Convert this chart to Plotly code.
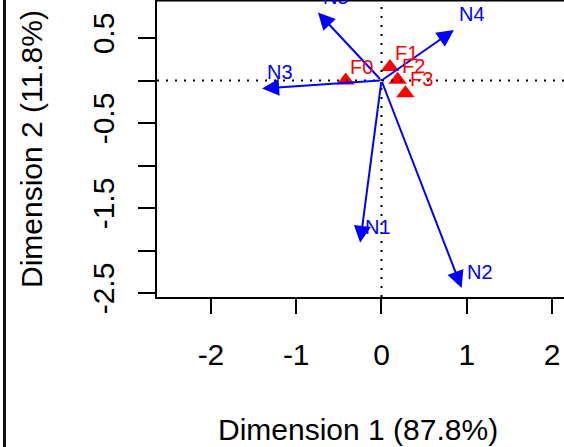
import plotly.graph_objects as go

# Row points (red triangles)
row_labels = ["F0", "F1", "F2", "F3"]
row_x = [-0.42, 0.10, 0.19, 0.28]
row_y = [0.00, 0.16, 0.01, -0.15]

# Column points (blue arrows)
col_labels = ["N1", "N2", "N3", "N4", "N5"]
col_x = [-0.25, 0.94, -1.40, 0.85, -0.745]
col_y = [-1.91, -2.44, -0.094, 0.594, 0.80]

x_ticks = [-2, -1, 0, 1, 2]
x_ticktext = ["-2", "-1", "0", "1", "2"]
y_ticks = [-2.5, -2.0, -1.5, -1.0, -0.5, 0.0, 0.5]
y_ticktext = ["-2.5", "", "-1.5", "", "-0.5", "", "0.5"]

x_title = "Dimension 1 (87.8%)"
y_title = "Dimension 2 (11.8%)"

FONT = "Liberation Sans, Arial, sans-serif"
W, H = 564, 447
L, B = 157, 150
PW, PH = W - L, H - B

fig = go.Figure()

fig.add_trace(go.Scatter(
    x=row_x, y=row_y, mode="markers",
    marker=dict(symbol="triangle-up", size=16, color="red"),
    hoverinfo="skip", showlegend=False, cliponaxis=False,
))

annotations = []
for lab, xv, yv in zip(col_labels, col_x, col_y):
    annotations.append(dict(
        x=xv, y=yv, ax=0, ay=0, xref="x", yref="y", axref="x", ayref="y",
        text="", showarrow=True, arrowhead=2, arrowsize=1.7, arrowwidth=2,
        arrowcolor="blue", standoff=0, startstandoff=0,
    ))
    annotations.append(dict(
        x=xv, y=yv, xref="x", yref="y", text=lab, showarrow=False,
        xshift=18, yshift=16, font=dict(family=FONT, size=20, color="blue"),
    ))
for lab, xv, yv in zip(row_labels, row_x, row_y):
    annotations.append(dict(
        x=xv, y=yv, xref="x", yref="y", text=lab, showarrow=False,
        xshift=16, yshift=14, font=dict(family=FONT, size=20, color="red"),
    ))

annotations.append(dict(
    x=(358 - L) / PW, y=(PH - 429) / PH, xref="paper", yref="paper",
    text=x_title, showarrow=False, xanchor="center", yanchor="middle",
    font=dict(family=FONT, size=30, color="black"),
))
annotations.append(dict(
    x=(31 - L) / PW, y=(PH - 149) / PH, xref="paper", yref="paper",
    text=y_title, showarrow=False, xanchor="center", yanchor="middle",
    textangle=-90, font=dict(family=FONT, size=30, color="black"),
))

shapes = [
    dict(type="line", xref="x", yref="paper", x0=0, x1=0, y0=0, y1=1,
         line=dict(color="black", width=2, dash="2px,7px")),
    dict(type="line", xref="paper", yref="y", x0=0, x1=1, y0=0, y1=0,
         line=dict(color="black", width=2, dash="2px,7px")),
    dict(type="line", xref="paper", yref="paper", x0=0, x1=1.01, y0=1, y1=1,
         line=dict(color="black", width=3)),
    dict(type="line", xref="paper", yref="paper",
         x0=(4.5 - L) / PW, x1=(4.5 - L) / PW, y0=-0.6, y1=1.1,
         line=dict(color="#111111", width=3)),
]

fig.update_layout(
    width=W, height=H,
    margin=dict(l=L, r=0, t=0, b=B, pad=0),
    paper_bgcolor="white", plot_bgcolor="white",
    showlegend=False,
    annotations=annotations, shapes=shapes,
    xaxis=dict(
        range=[-2.633, 2.141], tickvals=x_ticks, ticktext=x_ticktext,
        ticks="outside", ticklen=15, tickwidth=2, tickcolor="black",
        showline=True, linewidth=2, linecolor="black",
        showgrid=False, zeroline=False,
        tickfont=dict(family=FONT, size=30, color="black"),
        ticklabelstandoff=15,
    ),
    yaxis=dict(
        range=[-2.547, 0.947], tickvals=y_ticks, ticktext=y_ticktext,
        ticks="outside", ticklen=17, tickwidth=2, tickcolor="black",
        showline=True, linewidth=2, linecolor="black",
        showgrid=False, zeroline=False, tickangle=-90,
        tickfont=dict(family=FONT, size=30, color="black"),
        ticklabelstandoff=12,
    ),
)

fig.write_html("out.html")
